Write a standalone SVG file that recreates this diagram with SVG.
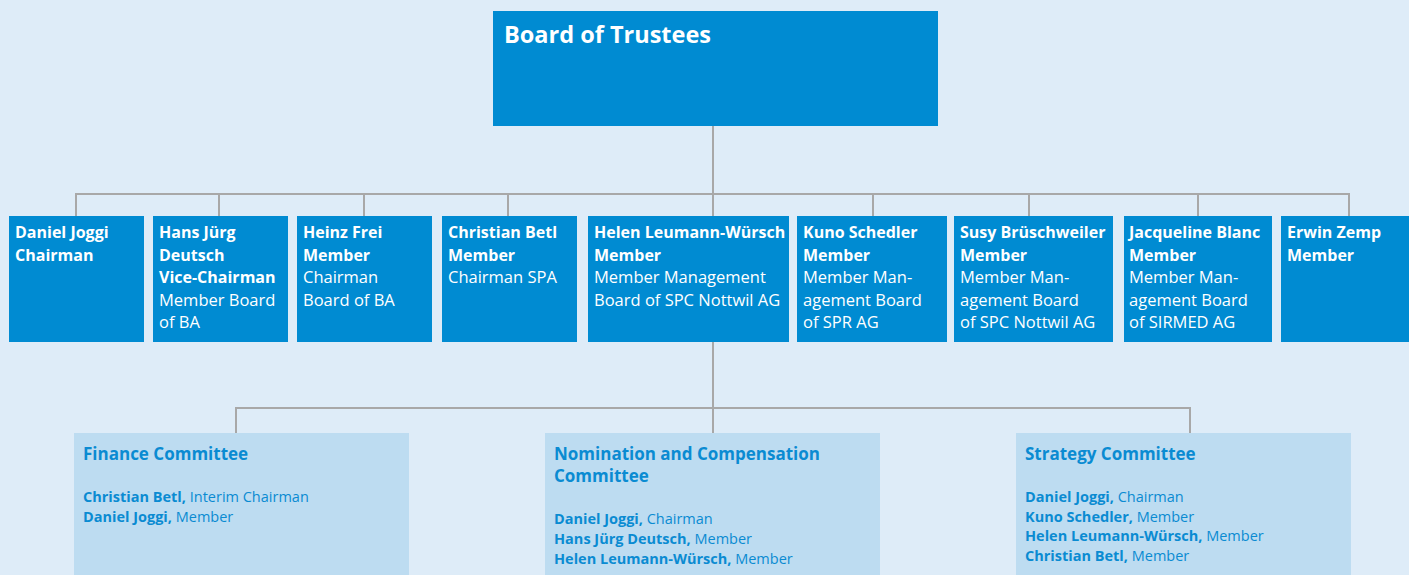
<svg xmlns="http://www.w3.org/2000/svg" width="1409" height="575" viewBox="0 0 1409 575">
<style>
.bg{fill:#deecf8}
.dk{fill:#008bd2}
.lt{fill:#bddcf1}
.ln{stroke:#a8a8a8;stroke-width:2;fill:none}
.t{font-family:"Open Sans","Noto Sans",sans-serif;fill:#fff;font-size:16.5px}
.t .b{font-size:16px}
.b{font-weight:bold}
.c{font-family:"Open Sans","Noto Sans",sans-serif;fill:#0a8bd2;font-size:14.5px}
.ct{font-size:17px;font-weight:bold}
</style>
<rect class="bg" x="0" y="0" width="1409" height="575"/>
<g id="connectors">
<path class="ln" d="M713 126V216M76 216V194H1349V216M219 194V216M364 194V216M508 194V216M873 194V216M1029 194V216M1198 194V216"/>
<path class="ln" d="M713 342V433M236 433V408H1190V433"/>
</g>
<g id="board">
<rect class="dk" x="493" y="11" width="445" height="115"/>
<text class="t b" x="504" y="43" style="font-size:23.5px">Board of Trustees</text>
</g>
<g id="joggi">
<rect class="dk" x="9" y="216" width="135" height="126"/>
<text class="t" x="15"><tspan class="b" y="238">Daniel Joggi</tspan><tspan class="b" x="15" y="261">Chairman</tspan></text>
</g>
<g id="deutsch">
<rect class="dk" x="153" y="216" width="135" height="126"/>
<text class="t" x="159"><tspan class="b" y="238">Hans Jürg</tspan><tspan class="b" x="159" y="261">Deutsch</tspan><tspan class="b" x="159" y="283">Vice-Chairman</tspan><tspan x="159" y="306">Member Board</tspan><tspan x="159" y="328">of BA</tspan></text>
</g>
<g id="frei">
<rect class="dk" x="297" y="216" width="135" height="126"/>
<text class="t" x="303"><tspan class="b" y="238">Heinz Frei</tspan><tspan class="b" x="303" y="261">Member</tspan><tspan x="303" y="283">Chairman</tspan><tspan x="303" y="306">Board of BA</tspan></text>
</g>
<g id="betl">
<rect class="dk" x="442" y="216" width="135" height="126"/>
<text class="t" x="448"><tspan class="b" y="238">Christian Betl</tspan><tspan class="b" x="448" y="261">Member</tspan><tspan x="448" y="283">Chairman SPA</tspan></text>
</g>
<g id="leumann">
<rect class="dk" x="588" y="216" width="201" height="126"/>
<text class="t" x="594"><tspan class="b" y="238">Helen Leumann-Würsch</tspan><tspan class="b" x="594" y="261">Member</tspan><tspan x="594" y="283">Member Management</tspan><tspan x="594" y="306">Board of SPC Nottwil AG</tspan></text>
</g>
<g id="schedler">
<rect class="dk" x="797" y="216" width="150" height="126"/>
<text class="t" x="803"><tspan class="b" y="238">Kuno Schedler</tspan><tspan class="b" x="803" y="261">Member</tspan><tspan x="803" y="283">Member Man-</tspan><tspan x="803" y="306">agement Board</tspan><tspan x="803" y="328">of SPR AG</tspan></text>
</g>
<g id="brueschweiler">
<rect class="dk" x="954" y="216" width="159" height="126"/>
<text class="t" x="960"><tspan class="b" y="238">Susy Brüschweiler</tspan><tspan class="b" x="960" y="261">Member</tspan><tspan x="960" y="283">Member Man-</tspan><tspan x="960" y="306">agement Board</tspan><tspan x="960" y="328">of SPC Nottwil AG</tspan></text>
</g>
<g id="blanc">
<rect class="dk" x="1124" y="216" width="148" height="126"/>
<text class="t" x="1129"><tspan class="b" y="238">Jacqueline Blanc</tspan><tspan class="b" x="1129" y="261">Member</tspan><tspan x="1129" y="283">Member Man-</tspan><tspan x="1129" y="306">agement Board</tspan><tspan x="1129" y="328">of SIRMED AG</tspan></text>
</g>
<g id="zemp">
<rect class="dk" x="1281" y="216" width="128" height="126"/>
<text class="t" x="1287"><tspan class="b" y="238">Erwin Zemp</tspan><tspan class="b" x="1287" y="261">Member</tspan></text>
</g>
<g id="finance">
<rect class="lt" x="74" y="433" width="335" height="142"/>
<text class="c ct" x="83" y="460">Finance Committee</text>
<text class="c" x="83" y="502"><tspan class="b">Christian Betl,</tspan> Interim Chairman</text>
<text class="c" x="83" y="522"><tspan class="b">Daniel Joggi,</tspan> Member</text>
</g>
<g id="nomination">
<rect class="lt" x="545" y="433" width="335" height="142"/>
<text class="c ct" x="554" y="460">Nomination and Compensation</text>
<text class="c ct" x="554" y="482">Committee</text>
<text class="c" x="554" y="524"><tspan class="b">Daniel Joggi,</tspan> Chairman</text>
<text class="c" x="554" y="544"><tspan class="b">Hans Jürg Deutsch,</tspan> Member</text>
<text class="c" x="554" y="564"><tspan class="b">Helen Leumann-Würsch,</tspan> Member</text>
</g>
<g id="strategy">
<rect class="lt" x="1016" y="433" width="335" height="142"/>
<text class="c ct" x="1025" y="460">Strategy Committee</text>
<text class="c" x="1025" y="502"><tspan class="b">Daniel Joggi,</tspan> Chairman</text>
<text class="c" x="1025" y="522"><tspan class="b">Kuno Schedler,</tspan> Member</text>
<text class="c" x="1025" y="541"><tspan class="b">Helen Leumann-Würsch,</tspan> Member</text>
<text class="c" x="1025" y="561"><tspan class="b">Christian Betl,</tspan> Member</text>
</g>
</svg>
